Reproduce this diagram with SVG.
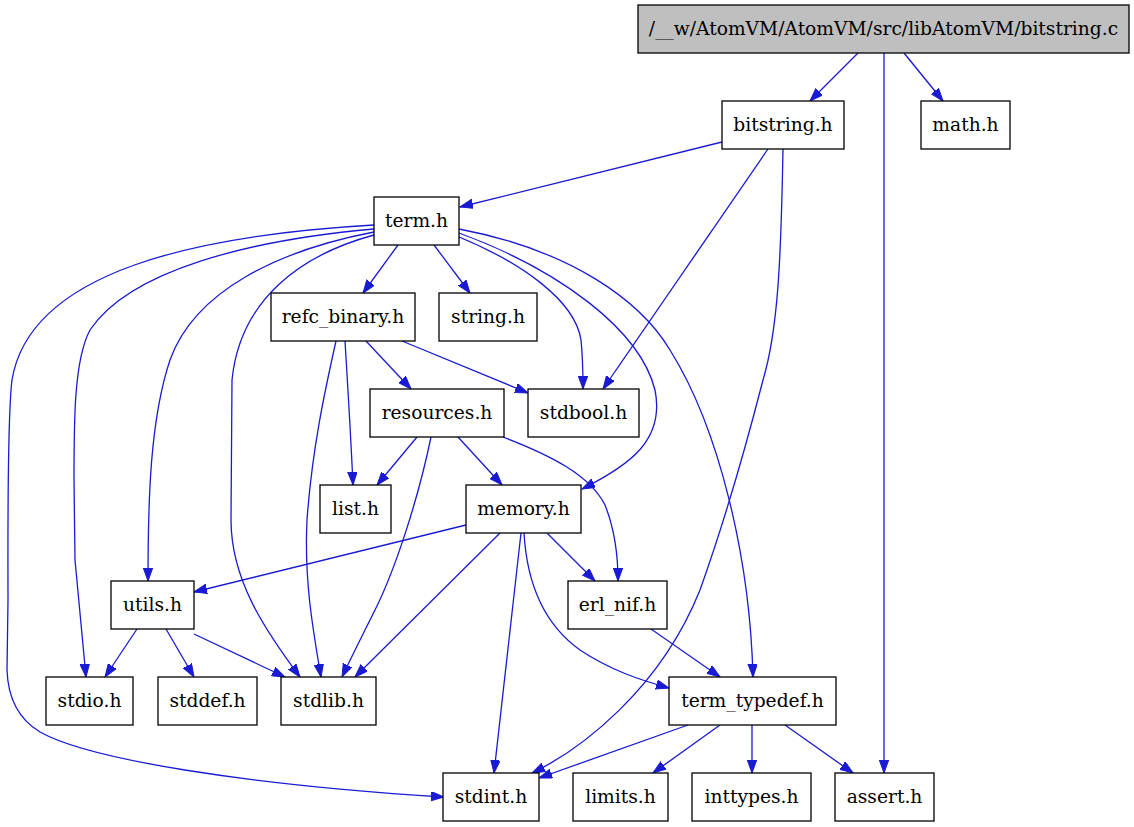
<svg xmlns="http://www.w3.org/2000/svg" width="1134" height="827" viewBox="0 0 1134 827">
<style>
.n rect{fill:#fff;stroke:#000;stroke-width:1.3}
.n text{font-family:"DejaVu Serif",serif;font-size:18.67px;text-anchor:middle;fill:#000}
#edges path{fill:none;stroke:#1a1ad2;stroke-width:1.3;marker-end:url(#ah)}
</style>
<defs>
<marker id="ah" markerUnits="userSpaceOnUse" markerWidth="14" markerHeight="10" refX="13" refY="4.7" orient="auto">
<path d="M0,0 L13,4.7 L0,9.4 z" fill="#1a1ad2" stroke="#1a1ad2" stroke-width="1"/>
</marker>
</defs>
<rect width="1134" height="827" fill="#fff"/>
<g id="edges">
<path d="M858,53 L810,101"/>
<path d="M884,53 L884,773"/>
<path d="M904,53 L943,101"/>
<path d="M722,142 L460,207"/>
<path d="M768,149 L603,389"/>
<path d="M783,149 C781,260 778,330 763,380 C745,450 725,520 700,590 C660,690 580,750 532,773"/>
<path d="M398,245 L363,293"/>
<path d="M434,245 L470,293"/>
<path d="M459,237 C520,262 575,300 581,340 C583,360 583,375 583,389"/>
<path d="M459,233 C560,270 640,330 655,390 C665,440 630,465 582,489"/>
<path d="M459,229 C570,250 640,300 670,350 C720,430 750,560 753,677"/>
<path d="M374,235 C300,255 240,300 232,380 L231,520 C231,580 265,630 300,677"/>
<path d="M374,232 C280,250 195,290 170,360 C150,420 148,500 148,581"/>
<path d="M374,229 C250,240 130,270 90,330 C74,360 74,420 74,480 L75,560 L86,677"/>
<path d="M374,225 C200,235 30,270 12,380 C7,420 8,560 8,600 L7,670 C8,700 20,720 40,732 C90,760 250,785 444,797"/>
<path d="M366,341 L411,389"/>
<path d="M402,341 L528,393"/>
<path d="M345,341 C348,390 351,440 353,485"/>
<path d="M336,341 C325,390 312,450 307,520 C304,580 313,630 321,677"/>
<path d="M417,437 L377,485"/>
<path d="M458,437 L502,485"/>
<path d="M431,437 C418,500 395,570 375,610 C360,640 350,660 342,677"/>
<path d="M503,437 C550,455 590,475 605,505 C615,530 618,555 618,581"/>
<path d="M466,525 L194,592"/>
<path d="M500,533 L355,677"/>
<path d="M521,533 L494,773"/>
<path d="M524,533 C527,585 545,625 580,650 C610,670 640,680 669,688"/>
<path d="M547,533 L595,581"/>
<path d="M137,629 L105,677"/>
<path d="M166,629 L194,677"/>
<path d="M194,634 L285,677"/>
<path d="M651,629 L720,677"/>
<path d="M688,725 L539,778"/>
<path d="M720,725 L653,773"/>
<path d="M752,725 L752,773"/>
<path d="M785,725 L853,773"/>
</g>
<g id="bitstring_c" class="n"><rect x="638" y="5" width="491" height="48" style="fill:#bfbfbf"/><text x="883.5" y="35">/__w/AtomVM/AtomVM/src/libAtomVM/bitstring.c</text></g>
<g id="bitstring_h" class="n"><rect x="722" y="101" width="122" height="48"/><text x="783" y="131">bitstring.h</text></g>
<g id="math_h" class="n"><rect x="921" y="101" width="89" height="48"/><text x="965.5" y="131">math.h</text></g>
<g id="term_h" class="n"><rect x="374" y="197" width="85" height="48"/><text x="416.5" y="227">term.h</text></g>
<g id="refc_binary_h" class="n"><rect x="271" y="293" width="144" height="48"/><text x="343" y="323">refc_binary.h</text></g>
<g id="string_h" class="n"><rect x="439" y="293" width="98" height="48"/><text x="488" y="323">string.h</text></g>
<g id="resources_h" class="n"><rect x="370" y="389" width="134" height="48"/><text x="437" y="419">resources.h</text></g>
<g id="stdbool_h" class="n"><rect x="528" y="389" width="111" height="48"/><text x="583.5" y="419">stdbool.h</text></g>
<g id="list_h" class="n"><rect x="320" y="485" width="71" height="48"/><text x="355.5" y="515">list.h</text></g>
<g id="memory_h" class="n"><rect x="466" y="485" width="115" height="48"/><text x="523.5" y="515">memory.h</text></g>
<g id="utils_h" class="n"><rect x="111" y="581" width="83" height="48"/><text x="152.5" y="611">utils.h</text></g>
<g id="erl_nif_h" class="n"><rect x="568" y="581" width="99" height="48"/><text x="617.5" y="611">erl_nif.h</text></g>
<g id="stdio_h" class="n"><rect x="46" y="677" width="87" height="48"/><text x="89.5" y="707">stdio.h</text></g>
<g id="stddef_h" class="n"><rect x="158" y="677" width="99" height="48"/><text x="207.5" y="707">stddef.h</text></g>
<g id="stdlib_h" class="n"><rect x="281" y="677" width="95" height="48"/><text x="328.5" y="707">stdlib.h</text></g>
<g id="term_typedef_h" class="n"><rect x="669" y="677" width="167" height="48"/><text x="752.5" y="707">term_typedef.h</text></g>
<g id="stdint_h" class="n"><rect x="443" y="773" width="96" height="48"/><text x="491" y="803">stdint.h</text></g>
<g id="limits_h" class="n"><rect x="573" y="773" width="95" height="48"/><text x="620.5" y="803">limits.h</text></g>
<g id="inttypes_h" class="n"><rect x="692" y="773" width="119" height="48"/><text x="751.5" y="803">inttypes.h</text></g>
<g id="assert_h" class="n"><rect x="835" y="773" width="99" height="48"/><text x="884.5" y="803">assert.h</text></g>
</svg>
